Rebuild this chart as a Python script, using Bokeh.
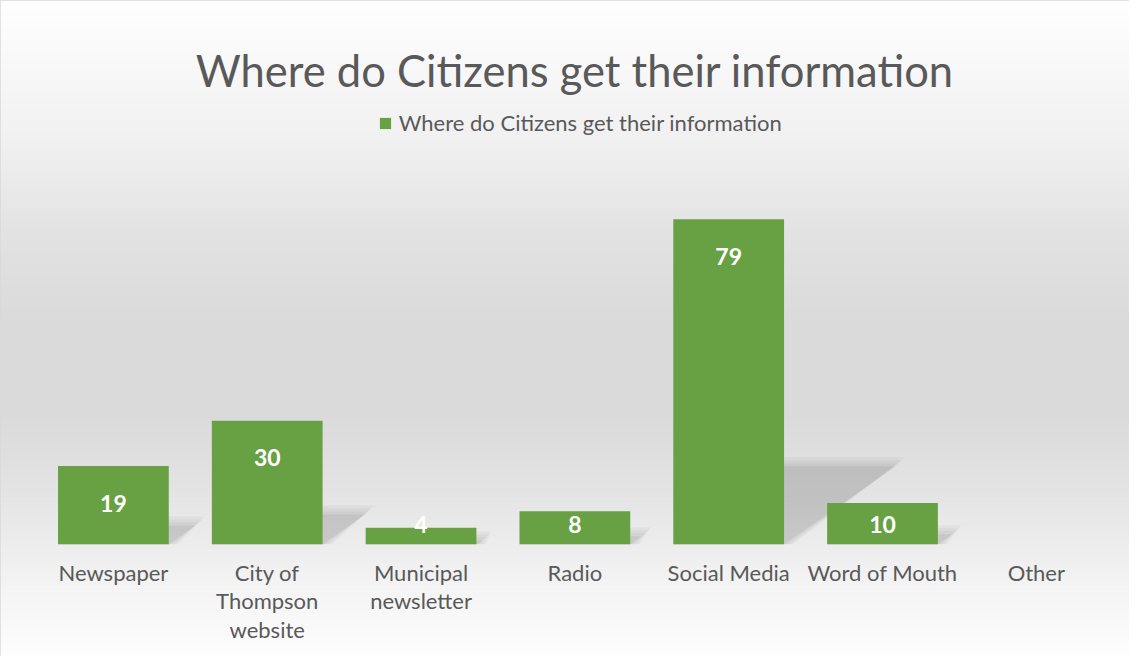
import numpy as np
from bokeh.plotting import figure
from bokeh.models import Range1d, Label, Legend, LegendItem, ColumnDataSource
from bokeh.core.properties import value
from bokeh.embed import file_html
from bokeh.resources import INLINE

# ---- data ----
categories = ["Newspaper", "City of Thompson website", "Municipal newsletter",
              "Radio", "Social Media", "Word of Mouth", "Other"]
tick_labels = ["Newspaper", "City of\nThompson\nwebsite", "Municipal\nnewsletter",
               "Radio", "Social Media", "Word of Mouth", "Other"]
counts = [19, 30, 4, 8, 79, 10, None]
series_name = "Where do Citizens get their information"
chart_title = "Where do Citizens get their information"

# ---- layout constants (pixels) ----
W, H = 1129, 656
SX, SY = W / 1145.0, H / 672.0
PX_PER_CAT = 156.0 * SX
FIRST_CENTER = 114.5 * SX
BASE_Y = 557.0 * SY
PX_PER_UNIT = 4.215 * SY
FONT = "Lato"
TEXT_COLOR = "#595959"
BAR_COLOR = "#68a143"

x_start = -FIRST_CENTER / PX_PER_CAT
x_end = (W - FIRST_CENTER) / PX_PER_CAT
y_end = BASE_Y / PX_PER_UNIT
y_start = -(H - BASE_Y) / PX_PER_UNIT

p = figure(width=W, height=H, x_range=Range1d(x_start, x_end),
           y_range=Range1d(y_start, y_end), output_backend="svg",
           toolbar_location=None, x_axis_location=None, y_axis_location=None,
           min_border=0)
p.grid.visible = False
p.background_fill_color = "white"
p.border_fill_color = "white"
p.outline_line_color = "#d9d9d9"
p.outline_line_width = 2

# ---- background vertical gradient ----
stops_y = [0, 140, 240, 330, 410, 490, 590, 656]
stops_v = [255, 241, 226, 218, 218, 228, 245, 254]
fy = np.arange(H) + 0.5
gray = np.interp(fy, stops_y, stops_v).astype(np.uint8)[::-1]
img = np.empty((H, 1), dtype=np.uint32)
view = img.view(dtype=np.uint8).reshape((H, 1, 4))
view[:, 0, 0] = gray
view[:, 0, 1] = gray
view[:, 0, 2] = gray
view[:, 0, 3] = 255
p.image_rgba(image=[img], x=x_start, y=y_start, dw=x_end - x_start, dh=y_end - y_start)

# ---- shadows ----
idx = list(range(len(categories)))
vals = np.array([np.nan if v is None else v for v in counts], dtype=float)
half = 0.36


def shadow(expand_px, alpha):
    xs, ys = [], []
    mx = expand_px / PX_PER_CAT
    my = expand_px / PX_PER_UNIT
    for i, v in zip(idx, counts):
        if v is None:
            continue
        dx = v * PX_PER_UNIT * 0.345 / PX_PER_CAT
        hs = v * 0.24
        xs.append([i - half, i + half + mx, i + half + dx + mx, i - half + dx])
        ys.append([0, 0, hs + my, hs + my])
    p.patches(xs=xs, ys=ys, fill_color="black", fill_alpha=alpha, line_color=None)


for e in (9, 6, 3):
    shadow(e, 0.035)
shadow(0, 0.05)

# ---- bars ----
src = ColumnDataSource(dict(x=idx, top=vals))
bars = p.vbar(x="x", top="top", width=0.72, source=src,
              fill_color=BAR_COLOR, line_color=None)

# ---- data labels ----
lab_x, lab_y, lab_t = [], [], []
for i, v in zip(idx, counts):
    if v is None:
        continue
    lab_x.append(i)
    lab_y.append(max(v - 38 / 4.215, 20 / 4.215))
    lab_t.append(str(v))
p.text(x=lab_x, y=lab_y, text=lab_t, text_align="center", text_baseline="alphabetic",
       text_font=value(FONT), text_font_style="bold", text_font_size="23px",
       text_color="white")

# ---- category labels ----
p.text(x=idx, y=[(BASE_Y - 558.5) / PX_PER_UNIT] * len(idx), text=tick_labels,
       text_align="center", text_baseline="top", text_font=value(FONT),
       text_font_size="22px", text_color=TEXT_COLOR, text_line_height=1.05)

# ---- title ----
p.add_layout(Label(x=582.5 * SX, y=H - 71 * SY, x_units="screen", y_units="screen",
                   text=chart_title, text_align="center", text_baseline="alphabetic",
                   text_font=FONT, text_font_size="43.5px", text_color=TEXT_COLOR))

# ---- legend ----
legend = Legend(items=[LegendItem(label=series_name, renderers=[bars])],
                location=(383 * SX, 520), orientation="horizontal",
                glyph_width=14, glyph_height=14, label_standoff=7,
                padding=0, margin=0, spacing=0,
                border_line_color=None, background_fill_alpha=0,
                label_text_font=FONT, label_text_font_size="22px",
                label_text_color=TEXT_COLOR)
p.add_layout(legend)

open("out.html", "w").write(file_html(p, INLINE))
